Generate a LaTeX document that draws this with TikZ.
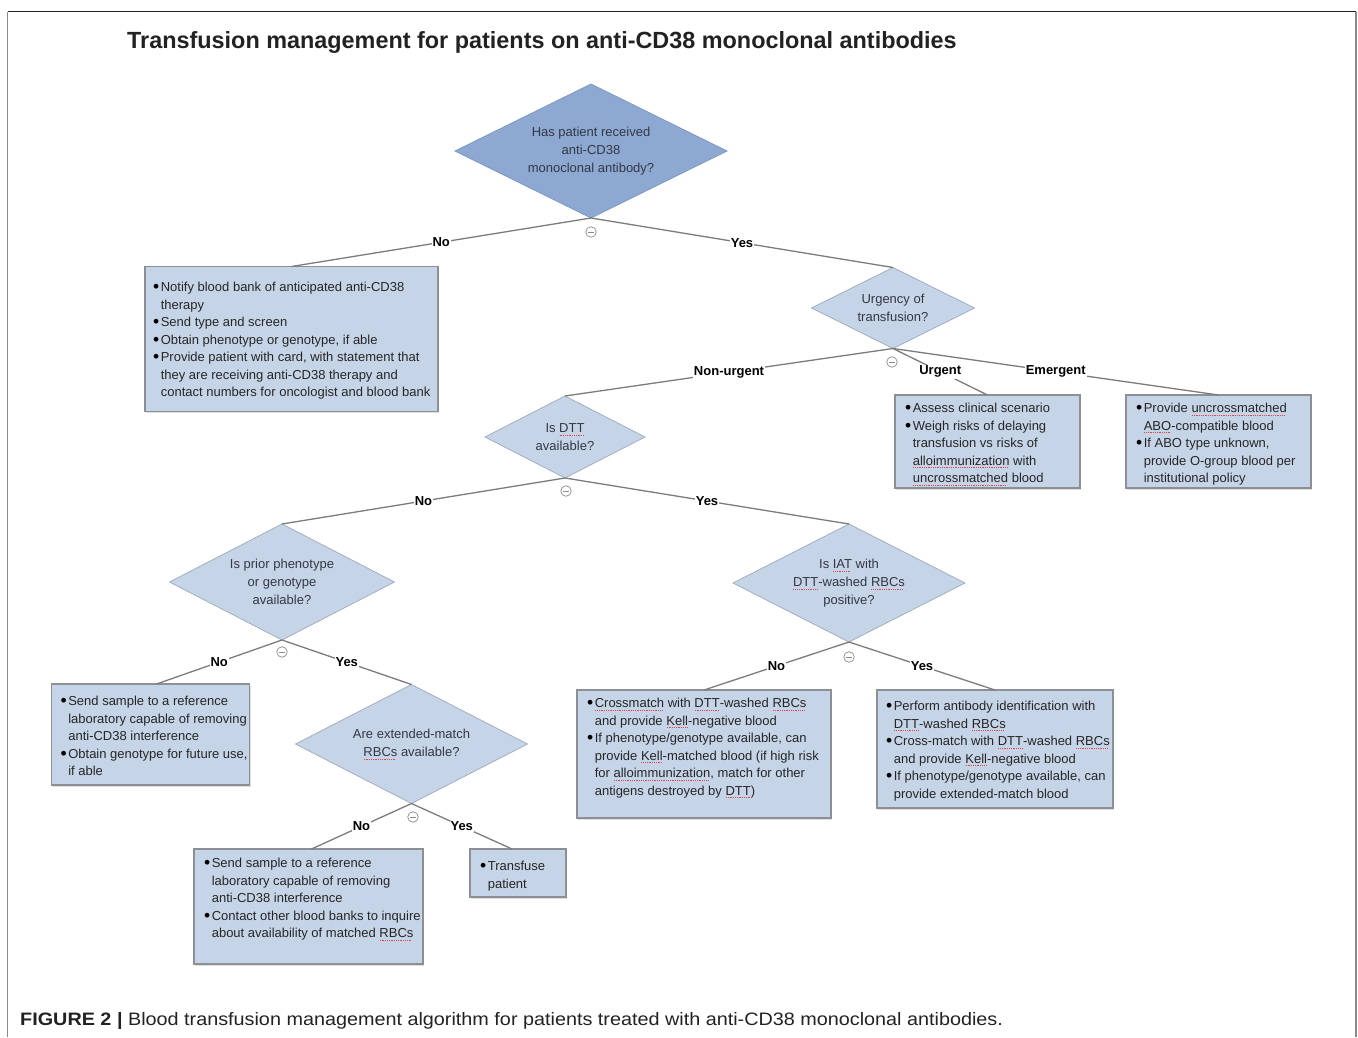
\documentclass[tikz,border=0pt]{standalone}
\usepackage{graphicx}
\usepackage{fontspec}
\setmainfont{Liberation Sans}
\usetikzlibrary{shapes.geometric,shadows}
\definecolor{topdia}{HTML}{8EA9D1}
\definecolor{topedge}{HTML}{7F98C2}
\definecolor{litedia}{HTML}{C6D4E8}
\definecolor{diaedge}{HTML}{A3AFC0}
\definecolor{boxfill}{HTML}{C6D4E7}
\definecolor{boxedge}{HTML}{8C8F94}
\definecolor{linegray}{HTML}{7C7C7C}
\definecolor{cmgray}{HTML}{8A8A8A}
\definecolor{sqred}{HTML}{E04848}
\definecolor{txt}{HTML}{262626}
\definecolor{diatxt}{HTML}{333845}
\definecolor{framedark}{HTML}{222222}
\definecolor{framegray}{HTML}{8A8A8A}
\newsavebox\sqbox
\newcommand\sq[1]{\sbox\sqbox{#1}\leavevmode\rlap{\textcolor{sqred}{\leaders\hbox to 1.8pt{\hss\rule[-2.8pt]{1pt}{0.6pt}\hss}\hskip\wd\sqbox}}\usebox\sqbox}
\newcommand\bdot{\makebox[7.8pt][l]{\raisebox{-1.4pt}{\scalebox{1.35}{\textcolor{black}{\textbullet}}}}}
\newcommand\bu[1]{\strut\mbox{\bdot#1}\par}
\newcommand\co[1]{\strut\mbox{\hspace*{7.8pt}#1}\par}
\newcommand\boxtext[4]{\parbox[c][#2pt][t]{#1pt}{\fontsize{13}{17.5}\selectfont\color{txt}\vspace*{#3pt}#4}}
\tikzset{
  decision/.style={diamond, fill=litedia, draw=diaedge, line width=0.8pt, inner sep=0pt, outer sep=0pt},
  dtext/.style={align=center, font=\fontsize{13}{18}\selectfont, text=diatxt, inner sep=0pt},
  infobox/.style={rectangle, draw=boxedge, line width=1.2pt, fill=boxfill, outer sep=0pt, inner ysep=0pt,
    drop shadow={shadow xshift=1.2pt, shadow yshift=-1.5pt, opacity=0.25}},
  conn/.style={draw=linegray, line width=1.3pt},
  lbl/.style={font=\fontsize{13}{15}\selectfont\bfseries, fill=white, inner sep=1pt, text=black},
  cminus/.style={circle, draw=cmgray, line width=0.7pt, minimum size=10.5pt, inner sep=0pt, fill=white,
    path picture={\draw[cmgray, line width=0.7pt] ([xshift=-2.6pt]path picture bounding box.center) -- ([xshift=2.6pt]path picture bounding box.center);}}
}
\begin{document}
\begin{tikzpicture}[x=1pt,y=-1pt]
\useasboundingbox (0,0) rectangle (1358,1037);
\fill[white] (0,0) rectangle (1358,1037);
% frame
\draw[framegray, line width=1.2pt] (7.5,11.5) -- (7.5,1037);
\draw[framegray, line width=2pt] (1355.5,11.5) -- (1355.5,1037);
\draw[framedark, line width=1.5pt] (7.5,11.5) -- (1355.5,11.5);
% title
\node[anchor=west, font=\fontsize{23.4}{28}\selectfont\bfseries, inner sep=0pt, text=framedark] (title) at (127,42)
  {Transfusion management for patients on anti-CD38 monoclonal antibodies};
% diamonds
\node[decision, fill=topdia, draw=topedge, minimum width=272pt, minimum height=134pt] (q1) at (591,151) {};
\node[dtext] at (q1.center) {Has patient received\\anti-CD38\\monoclonal antibody?};
\node[decision, minimum width=163pt, minimum height=81pt] (q2) at (893,308) {};
\node[dtext] at (q2.center) {Urgency of\\transfusion?};
\node[decision, minimum width=160pt, minimum height=82pt] (q3) at (565,437) {};
\node[dtext] at (q3.center) {Is \sq{DTT}\\available?};
\node[decision, minimum width=225pt, minimum height=116pt] (q4) at (282,582) {};
\node[dtext] at (q4.center) {Is prior phenotype\\or genotype\\available?};
\node[decision, minimum width=232pt, minimum height=118pt] (q5) at (849,583) {};
\node[dtext] at (q5.center) {Is \sq{IAT} with\\\sq{DTT}-washed \sq{RBCs}\\positive?};
\node[decision, minimum width=232pt, minimum height=119pt] (q6) at (411.5,744) {};
\node[dtext] at (q6.center) {Are extended-match\\\sq{RBCs} available?};
% boxes
\node[infobox, inner xsep=8pt] (b1) at (291.5,339) {\boxtext{277}{145}{12.75}{%
  \bu{Notify blood bank of anticipated anti-CD38}
  \co{therapy}
  \bu{Send type and screen}
  \bu{Obtain phenotype or genotype, if able}
  \bu{Provide patient with card, with statement that}
  \co{they are receiving anti-CD38 therapy and}
  \co{contact numbers for oncologist and blood bank}}};
\node[infobox, inner xsep=10pt] (b2) at (987.5,441.5) {\boxtext{165}{93}{5.25}{%
  \bu{Assess clinical scenario}
  \bu{Weigh risks of delaying}
  \co{transfusion vs risks of}
  \co{\sq{alloimmunization} with}
  \co{\sq{uncrossmatched} blood}}};
\node[infobox, inner xsep=10pt] (b3) at (1218.5,441.5) {\boxtext{165}{93}{5.25}{%
  \bu{Provide \sq{uncrossmatched}}
  \co{\sq{ABO}-compatible blood}
  \bu{If ABO type unknown,}
  \co{provide O-group blood per}
  \co{institutional policy}}};
\node[infobox, inner xsep=10pt] (b4) at (704,754) {\boxtext{234}{128}{5.25}{%
  \bu{\sq{Crossmatch} with \sq{DTT}-washed \sq{RBCs}}
  \co{and provide \sq{Kell}-negative blood}
  \bu{If phenotype/genotype available, can}
  \co{provide \sq{Kell}-matched blood (if high risk}
  \co{for \sq{alloimmunization}, match for other}
  \co{antigens destroyed by \sq{DTT})}}};
\node[infobox, inner xsep=9pt] (b5) at (995,749) {\boxtext{218}{118}{8.25}{%
  \bu{Perform antibody identification with}
  \co{\sq{DTT}-washed \sq{RBCs}}
  \bu{Cross-match with \sq{DTT}-washed \sq{RBCs}}
  \co{and provide \sq{Kell}-negative blood}
  \bu{If phenotype/genotype available, can}
  \co{provide extended-match blood}}};
\node[infobox, inner xsep=9pt] (b6) at (150.5,734.5) {\boxtext{180}{101}{9.25}{%
  \bu{Send sample to a reference}
  \co{laboratory capable of removing}
  \co{anti-CD38 interference}
  \bu{Obtain genotype for future use,}
  \co{if able}}};
\node[infobox, inner xsep=10pt] (b7) at (308.5,906.5) {\boxtext{209}{115}{6.25}{%
  \bu{Send sample to a reference}
  \co{laboratory capable of removing}
  \co{anti-CD38 interference}
  \bu{Contact other blood banks to inquire}
  \co{about availability of matched \sq{RBCs}}}};
\node[infobox, inner xsep=10pt] (b8) at (518,873) {\boxtext{76}{48}{9.25}{%
  \bu{Transfuse}
  \co{patient}}};
% connectors
\draw[conn] (q1.south) -- node[lbl]{No} (b1.north);
\draw[conn] (q1.south) -- node[lbl]{Yes} (q2.north);
\draw[conn] (q2.south) -- node[lbl]{Non-urgent} (q3.north);
\draw[conn] (q2.south) -- node[lbl]{Urgent} (b2.north);
\draw[conn] (q2.south) -- node[lbl]{Emergent} (b3.north);
\draw[conn] (q3.south) -- node[lbl]{No} (q4.north);
\draw[conn] (q3.south) -- node[lbl]{Yes} (q5.north);
\draw[conn] (q4.south) -- node[lbl]{No} ([xshift=6pt]b6.north);
\draw[conn] (q4.south) -- node[lbl]{Yes} (q6.north);
\draw[conn] (q5.south) -- node[lbl]{No} (b4.north);
\draw[conn] (q5.south) -- node[lbl]{Yes} (b5.north);
\draw[conn] (q6.south) -- node[lbl]{No} ([xshift=3pt]b7.north);
\draw[conn] (q6.south) -- node[lbl]{Yes} ([xshift=-6pt]b8.north);
% collapse markers
\node[cminus] (m1) at (591,232) {};
\node[cminus] (m2) at (892,362) {};
\node[cminus] (m3) at (566,491) {};
\node[cminus] (m4) at (282,652) {};
\node[cminus] (m5) at (849,657) {};
\node[cminus] (m6) at (413,817) {};
% caption
\node[anchor=west, font=\fontsize{18}{21}\selectfont, inner sep=0pt, text=framedark] (cap) at (20,1021)
  {\scalebox{1.1}[1]{\textbf{FIGURE 2 |} Blood transfusion management algorithm for patients treated with anti-CD38 monoclonal antibodies.}};
\end{tikzpicture}
\end{document}
